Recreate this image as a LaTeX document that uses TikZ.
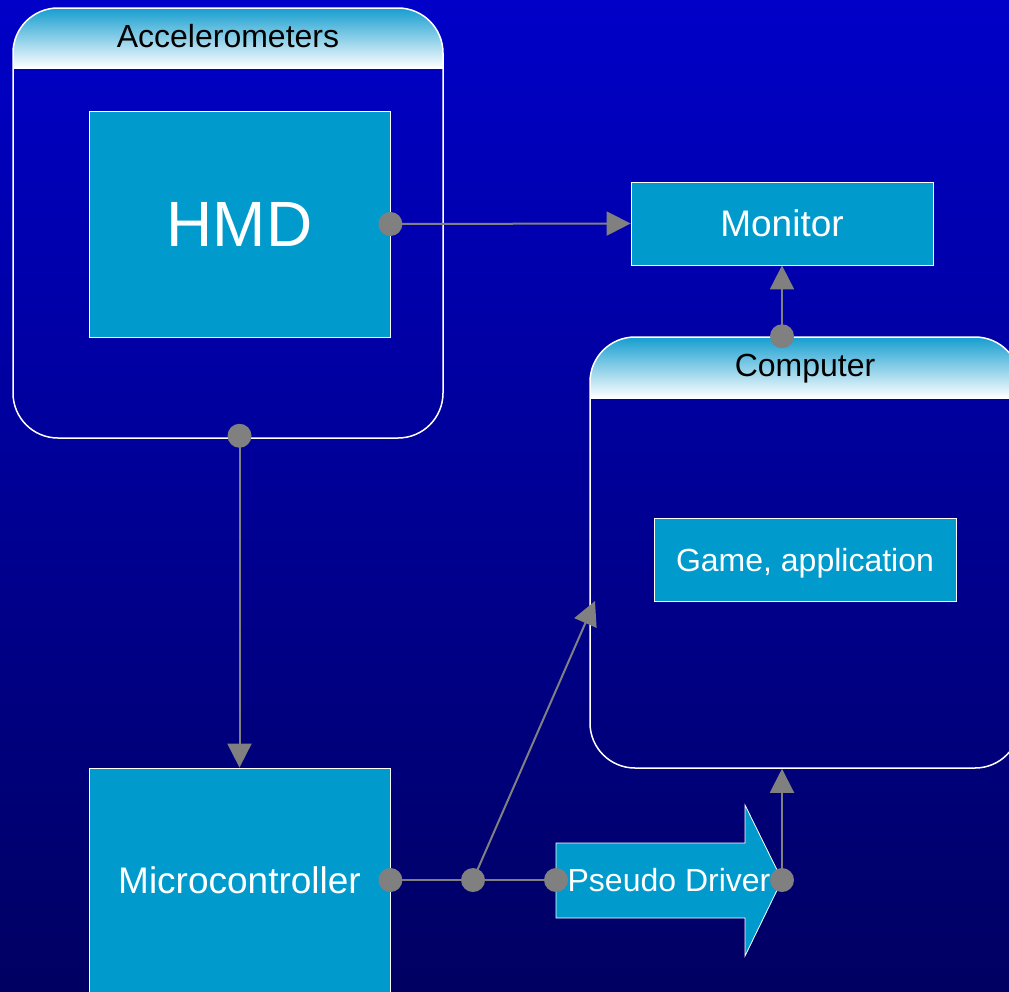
\documentclass[tikz,border=0pt]{standalone}
\usepackage{fontspec}
\setmainfont{Liberation Sans}
\usetikzlibrary{arrows.meta}
\definecolor{bgtop}{RGB}{0,0,200}
\definecolor{bgmid}{RGB}{0,0,165}
\definecolor{bgbot}{RGB}{0,0,98}
\definecolor{boxc}{RGB}{0,155,204}
\definecolor{hdrtop}{RGB}{22,158,208}
\definecolor{connc}{RGB}{128,128,128}
\tikzset{
  box/.style={rectangle, draw=white, line width=0.8pt, fill=boxc, text=white, inner sep=0pt},
  container/.style={rectangle, draw=white, line width=1.5pt, rounded corners=45pt, inner sep=0pt, minimum width=430pt, minimum height=430pt},
  hdrlabel/.style={text=black, inner sep=0pt, anchor=base, font=\fontsize{32}{38}\selectfont},
  conn/.style={draw=connc, line width=2pt, -{Triangle[length=24pt,width=24pt]}},
  plainconn/.style={draw=connc, line width=2pt},
  dot/.style={fill=connc},
}
\begin{document}
\begin{tikzpicture}[x=1pt,y=-1pt]
\useasboundingbox (0,0) rectangle (1009,991);
\clip (0,0) rectangle (1009,991);
\shade[top color=bgtop, middle color=bgmid, bottom color=bgbot] (0,0) rectangle (1009,991);

% Accelerometers container
\begin{scope}
  \clip[rounded corners=45pt] (13,8) rectangle (443,438);
  \shade[top color=hdrtop, bottom color=white] (13,8) rectangle (443,68);
\end{scope}
\draw[white, line width=1pt] (13,68) -- (443,68);
\node[container] (acc) at (228,223) {};
\node[hdrlabel] (acclbl) at (228,47) {Accelerometers};

% Computer container
\begin{scope}
  \clip[rounded corners=45pt] (590,337) rectangle (1020,768);
  \shade[top color=hdrtop, bottom color=white] (590,337) rectangle (1020,398);
\end{scope}
\draw[white, line width=1pt] (590,398) -- (1020,398);
\node[container, minimum height=431pt] (comp) at (805,552.5) {};
\node[hdrlabel] (complbl) at (805,376.5) {Computer};

% Boxes
\node[box, minimum width=301pt, minimum height=226pt, font=\fontsize{64}{70}\selectfont] (hmd) at (239.5,224) {HMD};
\node[box, minimum width=302pt, minimum height=83pt, font=\fontsize{37}{42}\selectfont] (mon) at (782,223.5) {Monitor};
\node[box, minimum width=302pt, minimum height=83pt, text depth=0pt, font=\fontsize{32}{38}\selectfont] (game) at (805,559.5) {Game, application};
\node[box, minimum width=301pt, minimum height=224pt, font=\fontsize{37}{42}\selectfont] (mcu) at (239.5,880) {Microcontroller};

% Pseudo Driver arrow
\draw[white, line width=0.8pt, fill=boxc] (556,843) -- (745,843) -- (745,805) -- (782,880) -- (745,956) -- (745,918) -- (556,918) -- cycle;
\node[text=white, inner sep=0pt, font=\fontsize{32}{38}\selectfont] (pd) at (669,880) {Pseudo Driver};

% Connector points
\coordinate (pdw) at (556,880);
\coordinate (pde) at (782,880);
\coordinate (jn) at (473,880);
\coordinate (compin) at (595,601);
\coordinate (accs) at ([yshift=3pt]hmd.south |- acc.south);
\coordinate (compn) at (mon.south |- comp.north);
\coordinate (comps) at (pde |- comp.south);

% Connectors
\draw[conn] (hmd.east) -- (mon.west);
\draw[conn] (accs) -- (mcu.north);
\draw[conn] (compn) -- (mon.south);
\draw[plainconn] (mcu.east) -- (jn) -- (pdw);
\draw[conn] (jn) -- (compin);
\draw[conn] (pde) -- (comps);

% Dots
\foreach \p in {hmd.east, accs, compn, mcu.east, jn, pdw, pde}
  \fill[dot] (\p) circle (12pt);
\end{tikzpicture}
\end{document}
